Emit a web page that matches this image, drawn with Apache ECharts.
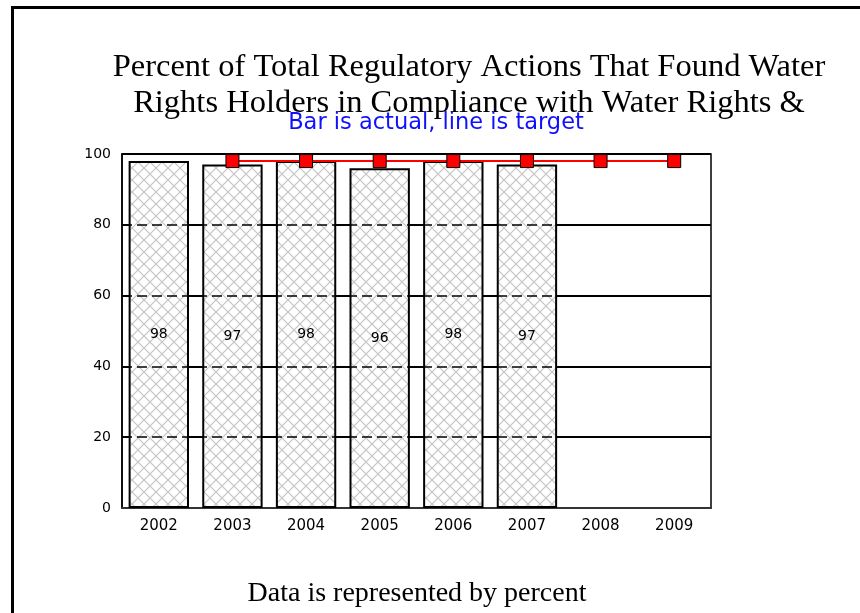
<!DOCTYPE html>
<html>
<head>
<meta charset="utf-8">
<script src="https://cdn.jsdelivr.net/npm/echarts@6/dist/echarts.min.js"></script>
<style>
    html, body { margin: 0; padding: 0; background: #fff; }
    #chart { width: 860px; height: 613px; }
</style>
</head>
<body>
<div id="chart"></div>
<script>
// chart data
const years = ['2002', '2003', '2004', '2005', '2006', '2007', '2008', '2009'];
const actual = [98, 97, 98, 96, 98, 97, null, null];
const target = [null, 98, 98, 98, 98, 98, 98, 98];
const yTicks = [0, 20, 40, 60, 80, 100];
const gridLevels = [20, 40, 60, 80];

// crosshatch fill for the bars
function makeHatch() {
    const c = document.createElement('canvas');
    c.width = 12;
    c.height = 12;
    const ctx = c.getContext('2d');
    ctx.fillStyle = '#ffffff';
    ctx.fillRect(0, 0, 12, 12);
    ctx.strokeStyle = '#c4c4c4';
    ctx.lineWidth = 1.2;
    ctx.beginPath();
    ctx.moveTo(0, 0); ctx.lineTo(12, 12);
    ctx.moveTo(12, 0); ctx.lineTo(0, 12);
    ctx.stroke();
    return c;
}

const chart = echarts.init(document.getElementById('chart'));

const labelFont = {
    color: '#000',
    fontFamily: 'DejaVu Sans, sans-serif',
    fontSize: 14
};

chart.setOption({
    animation: false,
    backgroundColor: '#fff',
    title: [{
        text: 'Percent of Total Regulatory Actions That Found Water\nRights Holders in Compliance with Water Rights &',
        left: 464,
        top: 44,
        textAlign: 'center',
        textStyle: {
            fontFamily: 'Liberation Serif, Times New Roman, serif',
            fontSize: 32.5,
            fontWeight: 'normal',
            color: '#000',
            lineHeight: 36
        }
    }, {
        text: 'Bar is actual, line is target',
        left: 431,
        top: 107,
        textAlign: 'center',
        textStyle: {
            fontFamily: 'DejaVu Sans, sans-serif',
            fontSize: 22.5,
            fontWeight: 'normal',
            color: '#1010ff'
        }
    }, {
        text: 'Data is represented by percent',
        left: 412,
        top: 575,
        textAlign: 'center',
        textStyle: {
            fontFamily: 'Liberation Serif, Times New Roman, serif',
            fontSize: 28,
            fontWeight: 'normal',
            color: '#000'
        }
    }],
    graphic: [{
        type: 'rect',
        shape: { x: 12.5, y: 7.5, width: 900, height: 700 },
        style: { fill: 'none', stroke: '#000', lineWidth: 3 },
        silent: true
    }],
    grid: {
        left: 122,
        top: 154,
        width: 589,
        height: 354,
        show: true,
        borderColor: '#000',
        borderWidth: 1.5,
        backgroundColor: 'transparent'
    },
    xAxis: {
        type: 'category',
        data: years,
        axisLine: { show: true, lineStyle: { color: '#333', width: 2 } },
        axisTick: { show: false },
        axisLabel: Object.assign({ margin: 11 }, labelFont, { fontSize: 15 }),
        splitLine: { show: false }
    },
    yAxis: {
        type: 'value',
        min: yTicks[0],
        max: yTicks[yTicks.length - 1],
        interval: 20,
        axisLine: { show: true, lineStyle: { color: '#000', width: 1.5 } },
        axisTick: { show: false },
        axisLabel: Object.assign({ margin: 11 }, labelFont),
        splitLine: { show: true, lineStyle: { color: '#000', width: 2, type: 'solid' } }
    },
    series: [{
        type: 'bar',
        name: 'Actual',
        data: actual,
        barCategoryGap: '18%',
        itemStyle: {
            color: { image: makeHatch(), repeat: 'repeat' },
            borderColor: '#000',
            borderWidth: 2
        },
        label: {
            show: true,
            position: 'inside',
            color: '#000',
            fontFamily: 'DejaVu Sans, sans-serif',
            fontSize: 14
        },
        markLine: {
            silent: true,
            symbol: 'none',
            label: { show: false },
            lineStyle: { color: '#000', width: 1.5, type: [10, 5] },
            data: gridLevels.map(v => ({ yAxis: v }))
        },
        z: 2
    }, {
        type: 'line',
        name: 'Target',
        data: target,
        symbol: 'rect',
        symbolSize: 13,
        lineStyle: { color: '#ff0000', width: 2 },
        itemStyle: { color: '#ff0000', borderColor: '#000', borderWidth: 1 },
        z: 5
    }]
});
</script>
</body>
</html>
